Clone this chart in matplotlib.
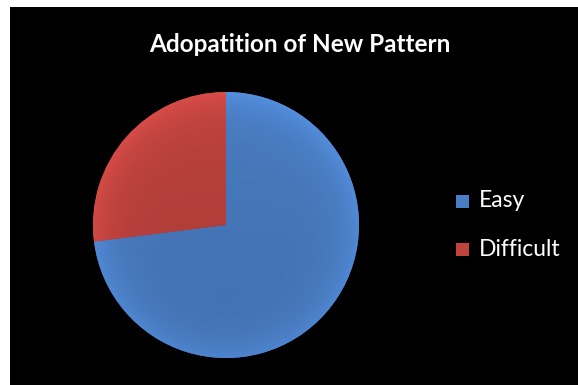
import numpy as np
import matplotlib
matplotlib.use("Agg")
import matplotlib.pyplot as plt
from matplotlib.patches import Rectangle
from matplotlib.colors import to_rgb

plt.rcParams['font.family'] = ['Lato', 'DejaVu Sans']

title = "Adopatition of New Pattern"
labels = ["Easy", "Difficult"]
values = [73, 27]
colors = ["#4a7ec4", "#c0433f"]

W, H = 578, 385
fig = plt.figure(figsize=(W / 100, H / 100), dpi=100, facecolor="white")

# black chart area
bg = fig.add_axes([10 / W, 0, 1 - 10 / W, (H - 7) / H])
bg.set_facecolor("black")
bg.set_xticks([]); bg.set_yticks([])
for s in bg.spines.values():
    s.set_visible(False)

# pie axes
cx, cy, r = 226, 225, 133
ax = fig.add_axes([(cx - r) / W, (H - cy - r) / H, 2 * r / W, 2 * r / H])
ax.set_facecolor("none")
wedges, _ = ax.pie(values, colors=colors, startangle=90, counterclock=False,
                   radius=1.0, wedgeprops=dict(linewidth=0))
ax.set_xlim(-1, 1); ax.set_ylim(-1, 1)
ax.set_aspect("equal")
ax.axis("off")

# soft radial shading inside each wedge
n = 400
xs = np.linspace(-1, 1, n)
X, Y = np.meshgrid(xs, xs)
R = np.sqrt(X ** 2 + Y ** 2)
shade = 0.93 + 0.16 * np.clip(R, 0, 1) ** 6 + 0.04 * Y
for w, c in zip(wedges, colors):
    base = np.array(to_rgb(c))
    img = np.clip(base[None, None, :] * shade[..., None], 0, 1)
    im = ax.imshow(img, extent=(-1, 1, -1, 1), origin="lower", zorder=2,
                   interpolation="bilinear")
    im.set_clip_path(w)
ax.set_xlim(-1, 1); ax.set_ylim(-1, 1)

fig.text(300 / W, 1 - 45 / H, title, color="white", fontsize=17.5,
         fontweight="bold", ha="center", va="center")

# legend
for i, (lab, c) in enumerate(zip(labels, colors)):
    yc = 201 + i * 48
    fig.patches.append(Rectangle((456 / W, (H - yc - 6.5) / H), 13 / W, 13 / H,
                                 transform=fig.transFigure, facecolor=c,
                                 edgecolor="none"))
    fig.text(479 / W, 1 - yc / H, lab, color="white", fontsize=16.5,
             ha="left", va="center")

fig.savefig("out.png", dpi=100, facecolor="white")
